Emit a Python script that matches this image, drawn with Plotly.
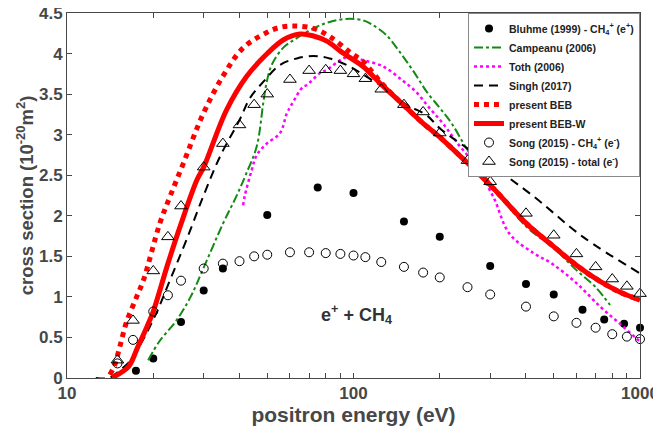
import plotly.graph_objects as go

# Bluhme (1999) - CH4+ (e+)
bluhme_x = [17.4, 20, 25, 30, 35, 50, 75, 100, 150, 200, 300, 400, 500, 630, 750, 880, 1000]
bluhme_y = [0.09, 0.24, 0.69, 1.08, 1.35, 2.01, 2.35, 2.28, 1.93, 1.74, 1.38, 1.16, 1.03, 0.84, 0.72, 0.67, 0.62]

# Campeanu (2006)
camp_x = [19.2, 21, 24.1, 27, 29.9, 35.1, 39, 42, 45.9, 48.5, 49.8, 51.8, 56.8, 63.4, 72.4, 82.6, 97,
          110, 117, 130, 145, 162, 180, 200, 220, 250, 300, 400, 500, 600, 700, 786]
camp_y = [0.22, 0.45, 0.71, 1.0, 1.35, 1.91, 2.24, 2.5, 2.85, 3.41, 3.65, 3.86, 4.07, 4.19, 4.31, 4.39, 4.43,
          4.40, 4.35, 4.23, 4.02, 3.78, 3.53, 3.33, 3.14, 2.81, 2.40, 1.87, 1.60, 1.33, 1.12, 0.90]

# Toth (2006)
toth_x = [41.2, 41.7, 44.1, 46, 49.8, 55.4, 58.5, 60.8, 66.6, 68.6, 76.4, 80.7, 92, 97, 108, 127, 148, 165,
          184, 205, 230, 262, 307, 350, 425, 493, 600, 726, 850, 970, 1000]
toth_y = [2.13, 2.24, 2.56, 2.75, 2.89, 3.02, 3.26, 3.37, 3.59, 3.61, 3.76, 3.80, 3.94, 3.96, 3.92, 3.84, 3.67, 3.53,
          3.33, 3.14, 2.90, 2.65, 2.24, 1.78, 1.54, 1.41, 1.17, 0.88, 0.67, 0.49, 0.45]

# Singh (2017)
singh_x = [12.6, 14, 15.1, 16.5, 17.9, 20.5, 22.9, 26.1, 29.9, 34.2, 40, 43.5, 48.4, 55.4, 63.4, 72.4, 82.6,
           97, 108, 124, 153, 180, 200, 290, 425, 632, 1000]
singh_y = [0, 0, 0.08, 0.2, 0.39, 0.80, 1.21, 1.70, 2.24, 2.73, 3.18, 3.45, 3.65, 3.86, 3.94, 3.97, 3.94,
           3.84, 3.74, 3.61, 3.37, 3.24, 3.08, 2.67, 2.24, 1.74, 1.29]

# present BEB
beb_x = [14.1, 14.6, 15.3, 16.1, 17.5, 18.5, 21.1, 22.9, 25.5, 29.9, 35, 41.2, 49.8, 55, 61.6, 72.4, 82.6,
         97, 108, 125, 141, 150, 175, 200, 250, 300, 400, 500, 600, 726, 850, 1000]
beb_y = [0.04, 0.14, 0.39, 0.68, 1.0, 1.21, 1.91, 2.24, 2.65, 3.26, 3.72, 4.07, 4.26, 4.32, 4.34, 4.31, 4.21,
         4.02, 3.90, 3.64, 3.45, 3.36, 3.14, 2.97, 2.65, 2.38, 1.91, 1.62, 1.39, 1.19, 1.06, 0.96]

# present BEB-W
bebw_x = [14.4, 15, 16.4, 17.7, 19, 20, 22.5, 25, 28.4, 30, 36, 42.4, 50, 57, 65, 72, 81, 90, 100, 108,
          125, 141, 150, 175, 200, 250, 300, 400, 500, 600, 726, 850, 1000]
bebw_y = [0.0, 0.04, 0.14, 0.39, 0.63, 0.82, 1.41, 1.90, 2.44, 2.60, 3.30, 3.72, 4.0, 4.17, 4.24, 4.22, 4.15, 4.03, 3.92, 3.84,
          3.62, 3.45, 3.36, 3.14, 2.97, 2.65, 2.38, 1.91, 1.62, 1.39, 1.19, 1.06, 0.96]

# Song (2015) - CH4+ (e-)
song_x = [15, 17, 20, 22.5, 25, 30, 35, 40, 45, 50, 60, 70, 80, 90, 100, 110, 125, 150, 175, 200, 250, 300,
          400, 500, 600, 700, 800, 900, 1000]
songion_y = [0.18, 0.47, 0.82, 1.02, 1.20, 1.35, 1.41, 1.44, 1.50, 1.52, 1.55, 1.55, 1.54, 1.53, 1.51, 1.49, 1.43,
             1.37, 1.30, 1.24, 1.12, 1.03, 0.88, 0.76, 0.68, 0.62, 0.54, 0.51, 0.48]
# Song (2015) - total (e-)
songtot_y = [0.22, 0.71, 1.32, 1.74, 2.12, 2.60, 2.89, 3.12, 3.37, 3.50, 3.68, 3.79, 3.80, 3.79, 3.75, 3.69, 3.56,
             3.37, 3.28, 3.02, 2.68, 2.42, 2.03, 1.76, 1.53, 1.37, 1.22, 1.13, 1.04]

xmajor = [10, 100, 1000]
xminor = [20, 30, 40, 50, 60, 70, 80, 90, 200, 300, 400, 500, 600, 700, 800, 900]
yticks = [0, 0.5, 1, 1.5, 2, 2.5, 3, 3.5, 4, 4.5]
ytick_text = ["0", "0.5", "1", "1.5", "2", "2.5", "3", "3.5", "4", "4.5"]

FONT = "Liberation Sans, Arial, sans-serif"
GRAY = "#474747"

fig = go.Figure()
fig.add_trace(go.Scatter(x=bluhme_x, y=bluhme_y, mode="markers", cliponaxis=False,
                         name="Bluhme (1999) - CH<sub>4</sub><sup>+</sup> (e<sup>+</sup>)",
                         marker=dict(symbol="circle", size=8, color="black")))
fig.add_trace(go.Scatter(x=camp_x, y=camp_y, mode="lines", name="Campeanu (2006)",
                         line=dict(color="#138a13", width=2, dash="dashdot", shape="spline")))
fig.add_trace(go.Scatter(x=toth_x, y=toth_y, mode="lines", name="Toth (2006)",
                         line=dict(color="#ff00ff", width=2.5, dash="dot", shape="spline")))
fig.add_trace(go.Scatter(x=singh_x, y=singh_y, mode="lines", name="Singh (2017)",
                         line=dict(color="black", width=2, dash="9px,6px", shape="spline")))
fig.add_trace(go.Scatter(x=beb_x, y=beb_y, mode="lines", name="present BEB",
                         line=dict(color="#ff0000", width=5, dash="dot", shape="spline")))
fig.add_trace(go.Scatter(x=bebw_x, y=bebw_y, mode="lines", name="present BEB-W",
                         line=dict(color="#ff0000", width=5, shape="spline")))
fig.add_trace(go.Scatter(x=song_x, y=songion_y, mode="markers", cliponaxis=False,
                         name="Song (2015) - CH<sub>4</sub><sup>+</sup> (e<sup>-</sup>)",
                         marker=dict(symbol="circle-open", size=9, color="black", line=dict(width=1))))
fig.add_trace(go.Scatter(x=song_x, y=songtot_y, mode="markers", cliponaxis=False,
                         name="Song (2015) - total (e<sup>-</sup>)",
                         marker=dict(symbol="triangle-up-open", size=11, color="black", line=dict(width=1))))

fig.add_annotation(x=2.012, y=0.78, xref="x", yref="y",
                   text="e<sup>+</sup> + CH<sub>4</sub>", showarrow=False,
                   font=dict(family=FONT, size=18, color="#333333", weight="bold"))

# the page body adds an 8px margin, so the figure is sized to fit the 661x435 window
fig.update_layout(
    width=653, height=427,
    margin=dict(l=59, r=21, t=5, b=57),
    paper_bgcolor="white", plot_bgcolor="white",
    font=dict(family=FONT, color=GRAY, weight="bold"),
    showlegend=True,
    legend=dict(x=1, y=1, xanchor="right", yanchor="top",
                bgcolor="white", bordercolor="#888888", borderwidth=1,
                font=dict(family=FONT, size=10.5, color="#222222", weight="bold"),
                itemwidth=30, tracegroupgap=0),
    xaxis=dict(type="log", range=[1, 3], tickmode="array", tickvals=xmajor,
               ticks="inside", ticklen=5, tickcolor=GRAY, showline=True, linecolor=GRAY, linewidth=1,
               mirror="ticks", showgrid=False, zeroline=False, automargin=False,
               ticklabeloverflow="allow",
               minor=dict(tickmode="array", tickvals=xminor, ticks="inside", ticklen=5,
                          tickcolor=GRAY, showgrid=False),
               tickfont=dict(size=17, color=GRAY, weight="bold"),
               title=dict(text="positron energy (eV)", font=dict(size=21, color=GRAY, weight="bold"),
                          standoff=3)),
    yaxis=dict(range=[0, 4.5], tickmode="array", tickvals=yticks, ticktext=ytick_text,
               ticks="inside", ticklen=5, tickcolor=GRAY, showline=True, linecolor=GRAY, linewidth=1,
               mirror="ticks", showgrid=False, zeroline=False, automargin=False,
               ticklabeloverflow="allow",
               tickfont=dict(size=17, color=GRAY, weight="bold"),
               title=dict(text="cross section (10<sup>-20</sup>m<sup>2</sup>)",
                          font=dict(size=18.5, color=GRAY, weight="bold"), standoff=0)),
)

fig.write_html("out.html")
